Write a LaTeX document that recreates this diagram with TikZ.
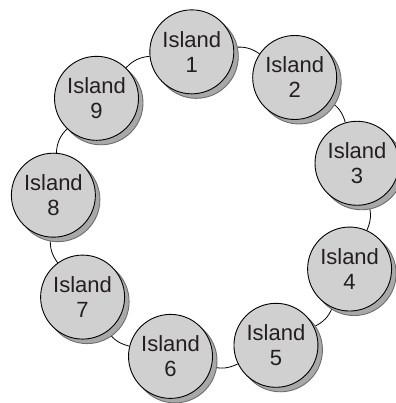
\documentclass[tikz,border=0pt]{standalone}
\usepackage{fontspec}
\setmainfont{Liberation Sans}
\usetikzlibrary{shadows,backgrounds}
\definecolor{islandfill}{HTML}{D0D0D0}
\definecolor{shadowfill}{HTML}{A8A8A8}
\definecolor{shadowedge}{HTML}{6E6E6E}
\definecolor{inkcol}{HTML}{231F20}
\begin{document}
\begin{tikzpicture}[x=1pt,y=1pt,
  island/.style={circle, draw=black, line width=0.9pt, fill=islandfill,
    minimum size=84pt, inner sep=0pt, align=center,
    font=\fontsize{22}{25}\selectfont, text=inkcol,
    copy shadow={shadow xshift=4.5pt, shadow yshift=-4.5pt,
      fill=shadowfill, draw=shadowedge}},
  link/.style={draw=black, line width=0.8pt}]
\useasboundingbox (0,0) rectangle (395,403);
% nine islands on a ring, 40 degrees apart
\foreach \i in {1,...,9}{
  \pgfmathsetmacro{\ang}{96-40*(\i-1)}
  \node[island] (n\i) at ({208+155*cos(\ang)},{197+155*sin(\ang)}) {Island\\\i};
}
% the ring joining neighbouring islands
\begin{scope}[on background layer]
  \foreach \i/\j in {1/2,2/3,3/4,4/5,5/6,6/7,7/8,8/9,9/1}
    \draw[link] (n\i) to[bend left=20] (n\j);
\end{scope}
\end{tikzpicture}
\end{document}
